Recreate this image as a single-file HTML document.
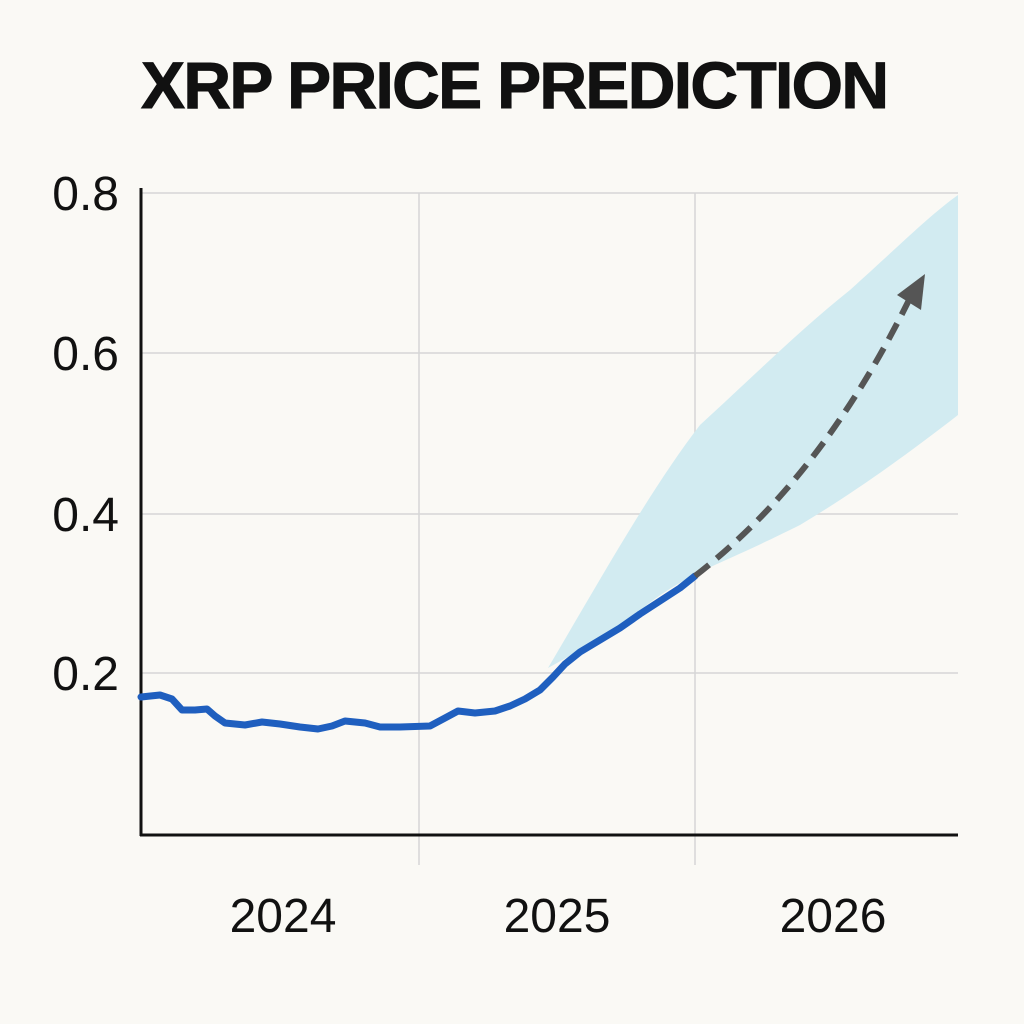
<!DOCTYPE html>
<html><head><meta charset="utf-8"><style>
html,body{margin:0;padding:0;background:#faf9f5;}
svg{display:block}
</style></head><body>
<svg width="1024" height="1024" viewBox="0 0 1024 1024" xmlns="http://www.w3.org/2000/svg">
<rect width="1024" height="1024" fill="#faf9f5"/>
<text x="515" y="108" text-anchor="middle" font-family="Liberation Sans, sans-serif" font-weight="bold" font-size="66" fill="#111" stroke="#111" stroke-width="1" textLength="748" lengthAdjust="spacing">XRP PRICE PREDICTION</text>
<g stroke="#d6d6d6" stroke-width="1.5">
<line x1="141" y1="193" x2="958" y2="193"/>
<line x1="141" y1="353" x2="958" y2="353"/>
<line x1="141" y1="514" x2="958" y2="514"/>
<line x1="141" y1="673" x2="958" y2="673"/>
<line x1="419" y1="193" x2="419" y2="865"/>
<line x1="695" y1="193" x2="695" y2="865"/>
</g>
<path d="M548,668 C600,580 650,490 700,425 C760,370 800,330 850,290 C900,245 930,215 958,195 L958,415 C900,460 850,495 800,525 C750,550 720,562 700,572 C660,592 640,610 620,628 Z" fill="#d2ebf1"/>
<g stroke="#111" stroke-width="3">
<line x1="141" y1="188" x2="141" y2="836"/>
<line x1="140" y1="835" x2="958" y2="835"/>
</g>
<g font-family="Liberation Sans, sans-serif" font-size="48" fill="#111">
<text x="119" y="210" text-anchor="end">0.8</text>
<text x="119" y="370" text-anchor="end">0.6</text>
<text x="119" y="531" text-anchor="end">0.4</text>
<text x="119" y="690" text-anchor="end">0.2</text>
<text x="283" y="932" text-anchor="middle">2024</text>
<text x="557" y="932" text-anchor="middle">2025</text>
<text x="833" y="932" text-anchor="middle">2026</text>
</g>
<polyline fill="none" stroke="#1f5fbf" stroke-width="7" stroke-linejoin="round" stroke-linecap="round" points="141,697 160,695 172,699 182,710 195,710 207,709 215,716 225,723 245,725 262,722 280,724 300,727 318,729 332,726 345,721 365,723 380,727 400,727 430,726 445,718 458,711 475,713 495,711 510,706 525,699 540,690 553,677 565,664 580,652 600,640 620,628 640,614 660,601 680,588 695,576"/>
<path d="M695,576 C780,510 850,420 910,298" fill="none" stroke="#555" stroke-width="6" stroke-dasharray="18 10"/>
<polygon points="925,274 921,310 897,295" fill="#555"/>
</svg>
</body></html>
